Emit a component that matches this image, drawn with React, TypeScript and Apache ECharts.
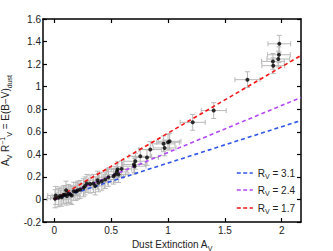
import React, { useEffect, useRef } from "react";
import * as echarts from "echarts";

const pointX = [0.006, 0.012, 0.036, 0.05, 0.065, 0.08, 0.094, 0.103, 0.11, 0.124, 0.14, 0.153, 0.17, 0.19, 0.205, 0.227, 0.257, 0.27, 0.286, 0.315, 0.344, 0.36, 0.38, 0.388, 0.418, 0.447, 0.476, 0.52, 0.535, 0.55, 0.556, 0.565, 0.591, 0.7, 0.706, 0.712, 0.756, 0.815, 0.844, 0.961, 0.97, 1.0, 1.014, 1.217, 1.402, 1.699, 1.923, 1.926, 1.97, 1.976, 1.979];
const pointY = [0.006, 0.035, 0.015, 0.03, 0.02, 0.04, 0.044, 0.082, 0.03, 0.053, 0.045, 0.035, 0.073, 0.07, 0.082, 0.088, 0.104, 0.12, 0.142, 0.136, 0.142, 0.12, 0.171, 0.148, 0.162, 0.177, 0.197, 0.206, 0.221, 0.245, 0.265, 0.221, 0.271, 0.31, 0.295, 0.339, 0.383, 0.372, 0.442, 0.493, 0.457, 0.507, 0.516, 0.684, 0.788, 1.062, 1.224, 1.186, 1.245, 1.283, 1.38];
const errX = [0.07, 0.07, 0.07, 0.07, 0.07, 0.07, 0.07, 0.07, 0.07, 0.07, 0.07, 0.07, 0.07, 0.07, 0.07, 0.07, 0.08, 0.08, 0.08, 0.08, 0.08, 0.08, 0.08, 0.08, 0.08, 0.08, 0.08, 0.09, 0.09, 0.09, 0.09, 0.09, 0.09, 0.1, 0.1, 0.1, 0.1, 0.1, 0.1, 0.1, 0.1, 0.1, 0.1, 0.11, 0.11, 0.11, 0.1, 0.1, 0.1, 0.1, 0.1];
const errY = [0.08, 0.08, 0.08, 0.08, 0.08, 0.08, 0.08, 0.08, 0.08, 0.08, 0.08, 0.08, 0.08, 0.08, 0.08, 0.08, 0.08, 0.08, 0.08, 0.08, 0.08, 0.08, 0.08, 0.08, 0.08, 0.08, 0.08, 0.07, 0.07, 0.07, 0.07, 0.07, 0.07, 0.07, 0.07, 0.07, 0.07, 0.07, 0.07, 0.07, 0.07, 0.07, 0.07, 0.07, 0.07, 0.07, 0.07, 0.07, 0.07, 0.07, 0.075];

const rvValues = [3.1, 2.4, 1.7];
const rvColors = ["#2f55e8", "#b446f5", "#f41414"];
const lineX = [0, 2.17];

const xTicks = [0, 0.5, 1, 1.5, 2];
const yMin = -0.2;
const yMax = 1.6;
const xMin = -0.1;
const xMax = 2.17;

const FONT = "Liberation Sans";
const DASH_ICON = "path://M0,0H5V2H0Z M8,0H13V2H8Z M16,0H20V2H16Z";

export default function App() {
  const ref = useRef<HTMLDivElement>(null);
  useEffect(() => {
    if (!ref.current) return;
    const chart = echarts.init(ref.current, undefined, { renderer: "svg" });
    const errData = pointX.map((x, i) => [x, pointY[i], errX[i], errY[i]]);
    const axisCommon = {
      axisLine: { show: true, onZero: false, lineStyle: { color: "#000", width: 1.5 } },
      axisTick: { show: true, inside: true, length: 4, lineStyle: { color: "#000", width: 1.2 } },
      splitLine: { show: false },
    };
    const isTick = (v: number) => xTicks.some((t) => Math.abs(t - v) < 1e-6);
    const labelStyle = { color: "#222", fontFamily: FONT, fontSize: 10 };
    const sub = { fontFamily: FONT, fontSize: 7, color: "#222", verticalAlign: "bottom" as const, lineHeight: 14 };
    const base = { fontFamily: FONT, fontSize: 10, color: "#222", lineHeight: 14 };
    const sup = { fontFamily: FONT, fontSize: 7, color: "#222", verticalAlign: "top" as const, lineHeight: 14 };
    const legendTops = [168, 185, 203];
    chart.setOption({
      animation: false,
      backgroundColor: "#fff",
      grid: { left: 43, right: 32, top: 19, bottom: 29, containLabel: false, outerBoundsMode: "none" },
      xAxis: [
        {
          type: "value", min: xMin, max: xMax, splitNumber: 5, position: "bottom",
          ...axisCommon,
          axisTick: { ...axisCommon.axisTick, customValues: xTicks },
          axisLabel: {
            ...labelStyle, margin: 3,
            customValues: xTicks,
            formatter: (v: number) => (isTick(v) ? String(v) : ""),
          },
          name: "{b|Dust Extinction A}{s|V}",
          nameLocation: "middle",
          nameGap: 13,
          nameTextStyle: { rich: { b: base, s: sub } },
        },
        {
          type: "value", min: xMin, max: xMax, splitNumber: 5, position: "top",
          ...axisCommon,
          axisTick: { ...axisCommon.axisTick, customValues: xTicks },
          axisLabel: { show: false },
        },
      ],
      yAxis: [
        {
          type: "value", min: yMin, max: yMax, interval: 0.2, position: "left",
          ...axisCommon,
          axisLabel: { ...labelStyle, margin: 2 },
          name: "{b|A}{s|V}{b| R}{p|−1}{s|V}{b| = E(B−V)}{s|dust}",
          nameLocation: "middle",
          nameGap: 21,
          nameRotate: 90,
          nameTextStyle: { rich: { b: base, s: sub, p: sup } },
        },
        {
          type: "value", min: yMin, max: yMax, interval: 0.2, position: "right",
          ...axisCommon, axisLabel: { show: false },
        },
      ],
      legend: rvValues.map((r, i) => ({
        orient: "vertical",
        right: 38,
        top: legendTops[i],
        itemWidth: 16,
        itemHeight: 2,
        padding: 0,
        icon: DASH_ICON,
        data: [`R_V = ${r}`],
        formatter: (name: string) => `{b|R}{s|V}{b| = ${name.split("= ")[1]}}`,
        textStyle: { rich: { b: { ...base, lineHeight: 14 }, s: sub } },
      })),
      series: [
        {
          type: "custom",
          name: "err",
          z: 1,
          data: errData,
          renderItem: (params: any, api: any) => {
            const x = api.value(0), y = api.value(1), ex = api.value(2), ey = api.value(3);
            const l = api.coord([x - ex, y]);
            const r = api.coord([x + ex, y]);
            const t = api.coord([x, y + ey]);
            const b = api.coord([x, y - ey]);
            const c = 2.5;
            const st = { stroke: "#b8b8b8", lineWidth: 1 };
            return {
              type: "group",
              children: [
                { type: "line", shape: { x1: l[0], y1: l[1], x2: r[0], y2: r[1] }, style: st },
                { type: "line", shape: { x1: t[0], y1: t[1], x2: b[0], y2: b[1] }, style: st },
                { type: "line", shape: { x1: l[0], y1: l[1] - c, x2: l[0], y2: l[1] + c }, style: st },
                { type: "line", shape: { x1: r[0], y1: r[1] - c, x2: r[0], y2: r[1] + c }, style: st },
                { type: "line", shape: { x1: t[0] - c, y1: t[1], x2: t[0] + c, y2: t[1] }, style: st },
                { type: "line", shape: { x1: b[0] - c, y1: b[1], x2: b[0] + c, y2: b[1] }, style: st },
              ],
            };
          },
        },
        ...rvValues.map((r, i) => ({
          type: "line",
          name: `R_V = ${r}`,
          z: 3,
          showSymbol: false,
          symbol: "none",
          color: rvColors[i],
          itemStyle: { color: rvColors[i] },
          lineStyle: { color: rvColors[i], width: 1.6, type: [4, 3] },
          data: lineX.map((x) => [x, x / r]),
        })),
        {
          type: "scatter",
          name: "points",
          z: 4,
          symbolSize: 4,
          itemStyle: { color: "#000" },
          data: pointX.map((x, i) => [x, pointY[i]]),
        },
      ],
    });
    return () => chart.dispose();
  }, []);
  return <div ref={ref} style={{ width: 333, height: 251, position: "absolute", left: 0, top: 0 }} />;
}
